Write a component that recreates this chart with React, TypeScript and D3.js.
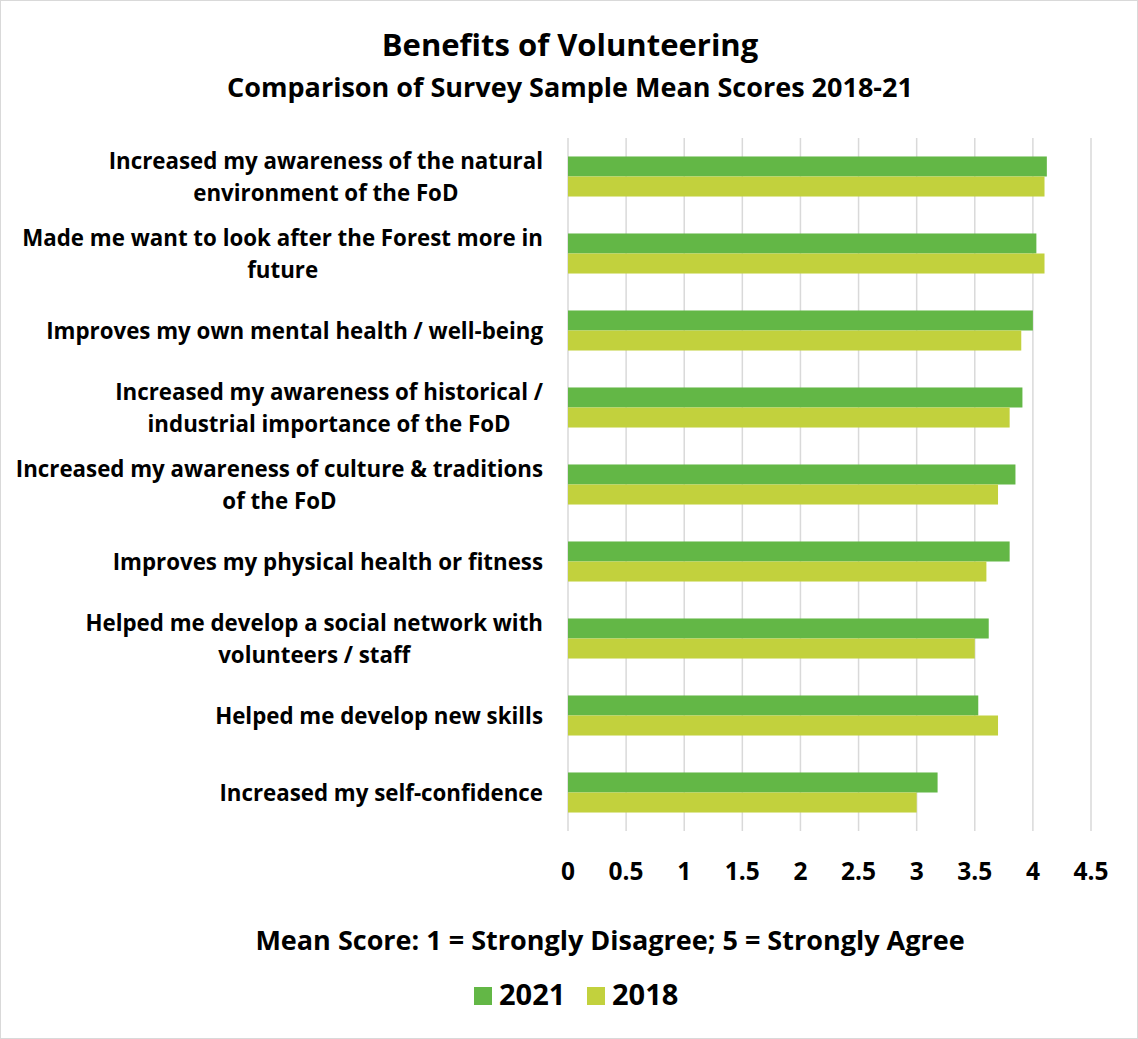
import React, { useEffect, useRef } from 'react';
import * as d3 from 'd3';

const categories = [
  "Increased my awareness of the natural\nenvironment of the FoD",
  "Made me want to look after the Forest more in\nfuture",
  "Improves my own mental health / well-being",
  "Increased my awareness of historical /\nindustrial importance of the FoD",
  "Increased my awareness of culture & traditions\nof the FoD",
  "Improves my physical health or fitness",
  "Helped me develop a social network with\nvolunteers / staff",
  "Helped me develop new skills",
  "Increased my self-confidence",
];
const values2021 = [4.12, 4.03, 4.0, 3.91, 3.85, 3.8, 3.62, 3.53, 3.18];
const values2018 = [4.1, 4.1, 3.9, 3.8, 3.7, 3.6, 3.5, 3.7, 3.0];
const seriesNames = ["2021", "2018"];
const seriesColors = ["#63b746", "#c2d13d"];
const tickValues = [0, 0.5, 1, 1.5, 2, 2.5, 3, 3.5, 4, 4.5];
const titleText = "Benefits of Volunteering";
const subtitleText = "Comparison of Survey Sample Mean Scores 2018-21";
const axisTitleText = "Mean Score: 1 = Strongly Disagree; 5 = Strongly Agree";

const W = 1138;
const H = 1039;
const FONT = "'Open Sans', sans-serif";

export default function App() {
  const ref = useRef<SVGSVGElement>(null);

  useEffect(() => {
    const svg = d3.select(ref.current);
    svg.selectAll('*').remove();

    const left = 568, right = 1091, top = 138, bottom = 831;
    const x = d3.scaleLinear().domain([0, 4.5]).range([left, right]);
    const y = d3.scaleBand<string>().domain(categories).range([top, bottom]).paddingInner(0.48).paddingOuter(0.24);
    const ys = d3.scaleBand<string>().domain(seriesNames).range([0, y.bandwidth()]);

    svg.append('rect').attr('x', 0.5).attr('y', 0.5).attr('width', W - 1).attr('height', H - 1)
      .attr('fill', '#fff').attr('stroke', '#d9d9d9').attr('stroke-width', 1);

    svg.append('g').selectAll('line').data(tickValues).join('line')
      .attr('x1', d => x(d)).attr('x2', d => x(d)).attr('y1', top).attr('y2', bottom)
      .attr('stroke', '#d9d9d9').attr('stroke-width', 1.5);

    const series = [values2021, values2018];
    series.forEach((vals, si) => {
      svg.append('g').selectAll('rect').data(categories).join('rect')
        .attr('x', x(0))
        .attr('y', (d) => (y(d) as number) + (ys(seriesNames[si]) as number))
        .attr('width', (_, i) => x(vals[i]) - x(0))
        .attr('height', ys.bandwidth())
        .attr('fill', seriesColors[si]);
    });

    svg.append('g').selectAll('text').data(tickValues).join('text')
      .attr('x', d => x(d)).attr('y', 880)
      .attr('text-anchor', 'middle')
      .attr('font-family', FONT).attr('font-weight', 700).attr('font-size', 24.5)
      .attr('fill', '#000')
      .text(d => String(d));

    const labelRight = 543;
    const fs = 22.3;
    const lineH = 32;
    categories.forEach((cat) => {
      const lines = cat.split('\n');
      const cy = (y(cat) as number) + y.bandwidth() / 2;
      const g = svg.append('g');
      const texts = lines.map((ln, i) =>
        g.append('text')
          .attr('y', cy + 8 + (i - (lines.length - 1) / 2) * lineH)
          .attr('text-anchor', 'middle')
          .attr('font-family', FONT).attr('font-weight', 700).attr('font-size', fs)
          .attr('fill', '#000')
          .text(ln)
      );
      const widths = texts.map(t => (t.node() as SVGTextElement).getComputedTextLength());
      const maxW = d3.max(widths) || 0;
      texts.forEach(t => t.attr('x', labelRight - maxW / 2));
    });

    svg.append('text').attr('x', 570).attr('y', 56).attr('text-anchor', 'middle')
      .attr('font-family', FONT).attr('font-weight', 700).attr('font-size', 31).attr('fill', '#000')
      .text(titleText);
    svg.append('text').attr('x', 570).attr('y', 97).attr('text-anchor', 'middle')
      .attr('font-family', FONT).attr('font-weight', 700).attr('font-size', 27).attr('fill', '#000')
      .text(subtitleText);
    svg.append('text').attr('x', 610).attr('y', 950).attr('text-anchor', 'middle')
      .attr('font-family', FONT).attr('font-weight', 700).attr('font-size', 27).attr('fill', '#000')
      .text(axisTitleText);

    const legend = svg.append('g');
    const legendX = [474, 587];
    seriesNames.forEach((name, i) => {
      legend.append('rect').attr('x', legendX[i]).attr('y', 987).attr('width', 18).attr('height', 18)
        .attr('fill', seriesColors[i]);
      legend.append('text').attr('x', legendX[i] + 25).attr('y', 1005)
        .attr('font-family', FONT).attr('font-weight', 700).attr('font-size', 29).attr('fill', '#000')
        .text(name);
    });
  }, []);

  return (
    <svg ref={ref} width={W} height={H} style={{ position: 'absolute', left: 0, top: 0, display: 'block' }} />
  );
}
